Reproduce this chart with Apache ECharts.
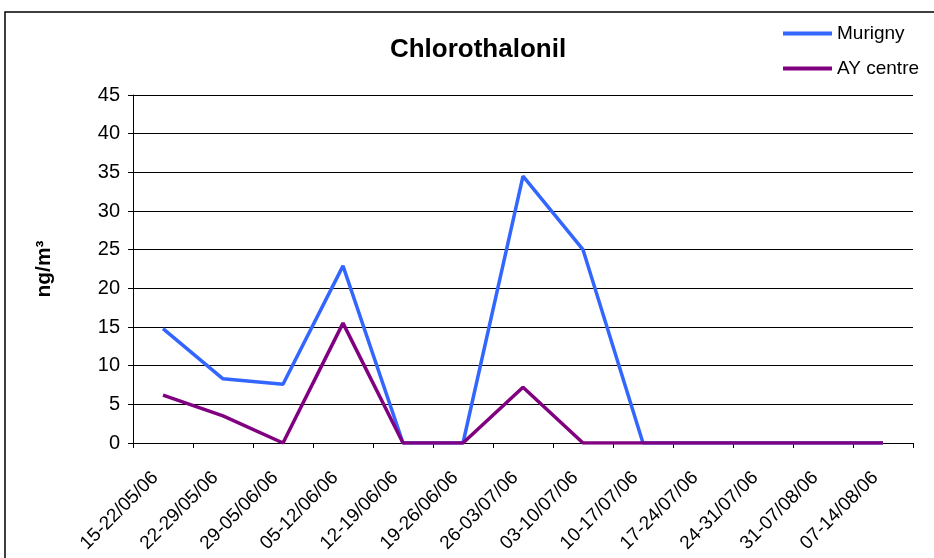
<!DOCTYPE html>
<html>
<head>
<meta charset="utf-8">
<script src="https://cdn.jsdelivr.net/npm/echarts@6/dist/echarts.min.js"></script>
<style>
  html, body { margin: 0; padding: 0; background: #fff; }
  #chart { width: 934px; height: 558px; }
</style>
</head>
<body>
<div id="chart"></div>
<script>
const periods = ['15-22/05/06', '22-29/05/06', '29-05/06/06', '05-12/06/06', '12-19/06/06',
    '19-26/06/06', '26-03/07/06', '03-10/07/06', '10-17/07/06', '17-24/07/06',
    '24-31/07/06', '31-07/08/06', '07-14/08/06'];
const murigny = [14.8, 8.3, 7.6, 22.9, 0, 0, 34.5, 25.0, 0, 0, 0, 0, 0];
const ayCentre = [6.2, 3.5, 0, 15.5, 0, 0, 7.2, 0, 0, 0, 0, 0, 0];

const font = 'Liberation Sans, Arial, sans-serif';

const myChart = echarts.init(document.getElementById('chart'));
const option = {
    animation: false,
    backgroundColor: '#fff',
    title: {
        text: 'Chlorothalonil',
        left: 473,
        top: 32,
        textAlign: 'center',
        textStyle: { fontFamily: font, fontSize: 26, fontWeight: 'bold', color: '#000' }
    },
    legend: {
        orient: 'vertical',
        left: 778,
        top: 19,
        itemWidth: 49,
        itemHeight: 4,
        itemGap: 16,
        icon: 'rect',
        textStyle: { fontFamily: font, fontSize: 19, color: '#000' },
        data: ['Murigny', 'AY centre']
    },
    graphic: [{
        type: 'rect',
        shape: { x: 5, y: 12, width: 1000, height: 600 },
        style: { fill: 'none', stroke: '#000', lineWidth: 1.5 }
    }],
    grid: { left: 133, right: 21, top: 95, bottom: 115 },
    xAxis: {
        type: 'category',
        data: periods,
        boundaryGap: true,
        axisLine: { lineStyle: { color: '#000', width: 1 } },
        axisTick: { show: true, length: 5, lineStyle: { color: '#000' } },
        axisLabel: {
            interval: 0,
            rotate: 45,
            margin: 24,
            padding: [0, 11, 0, 0],
            fontFamily: font,
            fontSize: 19,
            color: '#000'
        }
    },
    yAxis: {
        type: 'value',
        min: 0,
        max: 45,
        interval: 5,
        name: 'ng/m³',
        nameLocation: 'middle',
        nameRotate: 90,
        nameGap: 78,
        nameTextStyle: { fontFamily: font, fontSize: 21, fontWeight: 'bold', color: '#000' },
        axisLine: { show: true, lineStyle: { color: '#000', width: 1 } },
        axisTick: { show: true, length: 5, lineStyle: { color: '#000' } },
        axisLabel: { fontFamily: font, fontSize: 20, color: '#000', margin: 13 },
        splitLine: { lineStyle: { color: '#000', width: 1 } }
    },
    series: [
        {
            name: 'Murigny',
            type: 'line',
            data: murigny,
            symbol: 'none',
            color: '#3366FF',
            lineStyle: { width: 3.5, color: '#3366FF' }
        },
        {
            name: 'AY centre',
            type: 'line',
            data: ayCentre,
            symbol: 'none',
            color: '#800080',
            lineStyle: { width: 3.5, color: '#800080' }
        }
    ]
};
myChart.setOption(option);
</script>
</body>
</html>
